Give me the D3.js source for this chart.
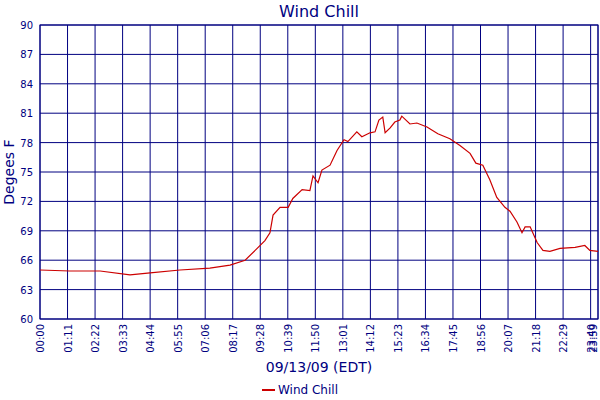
<!DOCTYPE html>
<html><head><meta charset="utf-8">
<script src="https://cdn.jsdelivr.net/npm/d3@7"></script>
<style>body{margin:0;background:#fff}text{font-family:"DejaVu Sans",Verdana,sans-serif;fill:#000080}</style>
</head><body><svg id="c" width="600" height="400"></svg>
<script>
// minutes since midnight, wind chill (F)
var minutes = [0,77,155,232,284,361,438,490,529,560,580,593,601,619,640,652,676,696,704,717,727,748,766,784,794,817,830,851,864,874,884,890,903,915,928,933,954,972,998,1026,1057,1083,1109,1124,1142,1160,1178,1199,1212,1230,1243,1251,1264,1282,1297,1315,1341,1380,1405,1418,1439];
var chill = [65.0,64.9,64.9,64.5,64.7,65.0,65.2,65.5,66.0,67.2,68.0,68.8,70.6,71.4,71.4,72.3,73.2,73.1,74.6,73.9,75.2,75.7,77.2,78.3,78.1,79.1,78.6,79.0,79.1,80.3,80.6,79.0,79.5,80.1,80.3,80.7,79.9,80.0,79.6,78.9,78.4,77.7,76.9,75.9,75.7,74.2,72.4,71.4,71.0,69.9,68.8,69.4,69.4,67.8,67.0,66.9,67.2,67.3,67.5,67.0,66.9];
var xTicks = [0,71,142,213,284,355,426,497,568,639,710,781,852,923,994,1065,1136,1207,1278,1349,1420,1439];
var yTicks = [60,63,66,69,72,75,78,81,84,87,90];

var svg = d3.select('#c');
var x = d3.scaleLinear().domain([0,1439]).range([40,598]);
var y = d3.scaleLinear().domain([60,90]).range([319,25]);
var navy = '#000080';
var fmt = function(m){ return d3.format('02')(Math.floor(m/60)) + ':' + d3.format('02')(m%60); };

// grid
svg.append('g').selectAll('line').data(xTicks).join('line')
  .attr('x1', d => x(d)).attr('x2', d => x(d)).attr('y1', 25).attr('y2', 319)
  .attr('stroke', navy).attr('stroke-width', 1);
svg.append('g').selectAll('line').data(yTicks).join('line')
  .attr('x1', 40).attr('x2', 598).attr('y1', d => y(d)).attr('y2', d => y(d))
  .attr('stroke', navy).attr('stroke-width', 1);
svg.append('rect').attr('x',40).attr('y',25).attr('width',558).attr('height',294)
  .attr('fill','none').attr('stroke',navy);

// tick labels
svg.append('g').selectAll('text').data(yTicks).join('text')
  .attr('x', 33).attr('y', d => y(d) + 4).attr('text-anchor','end')
  .attr('font-size', 10).text(d => d);
svg.append('g').selectAll('text').data(xTicks).join('text')
  .attr('transform', d => 'translate(' + Math.min(x(d) + 4, 597) + ',324) rotate(-90)')
  .attr('text-anchor','end').attr('font-size', 10).text(d => fmt(d));

// line
svg.append('path').datum(d3.zip(minutes, chill))
  .attr('fill','none').attr('stroke','#cc0000').attr('stroke-width',1.2)
  .attr('d', d3.line().x(d => x(d[0])).y(d => y(d[1])));

// titles
svg.append('text').attr('x',319).attr('y',17).attr('text-anchor','middle').attr('font-size',16).text('Wind Chill');
svg.append('text').attr('transform','translate(14,172) rotate(-90)').attr('text-anchor','middle').attr('font-size',14).text('Degees F');
svg.append('text').attr('x',319).attr('y',372).attr('text-anchor','middle').attr('font-size',14).text('09/13/09 (EDT)');
svg.append('line').attr('x1',262).attr('x2',275).attr('y1',390).attr('y2',390).attr('stroke','#cc0000').attr('stroke-width',2);
svg.append('text').attr('x',278).attr('y',394).attr('font-size',12).text('Wind Chill');
</script></body></html>
